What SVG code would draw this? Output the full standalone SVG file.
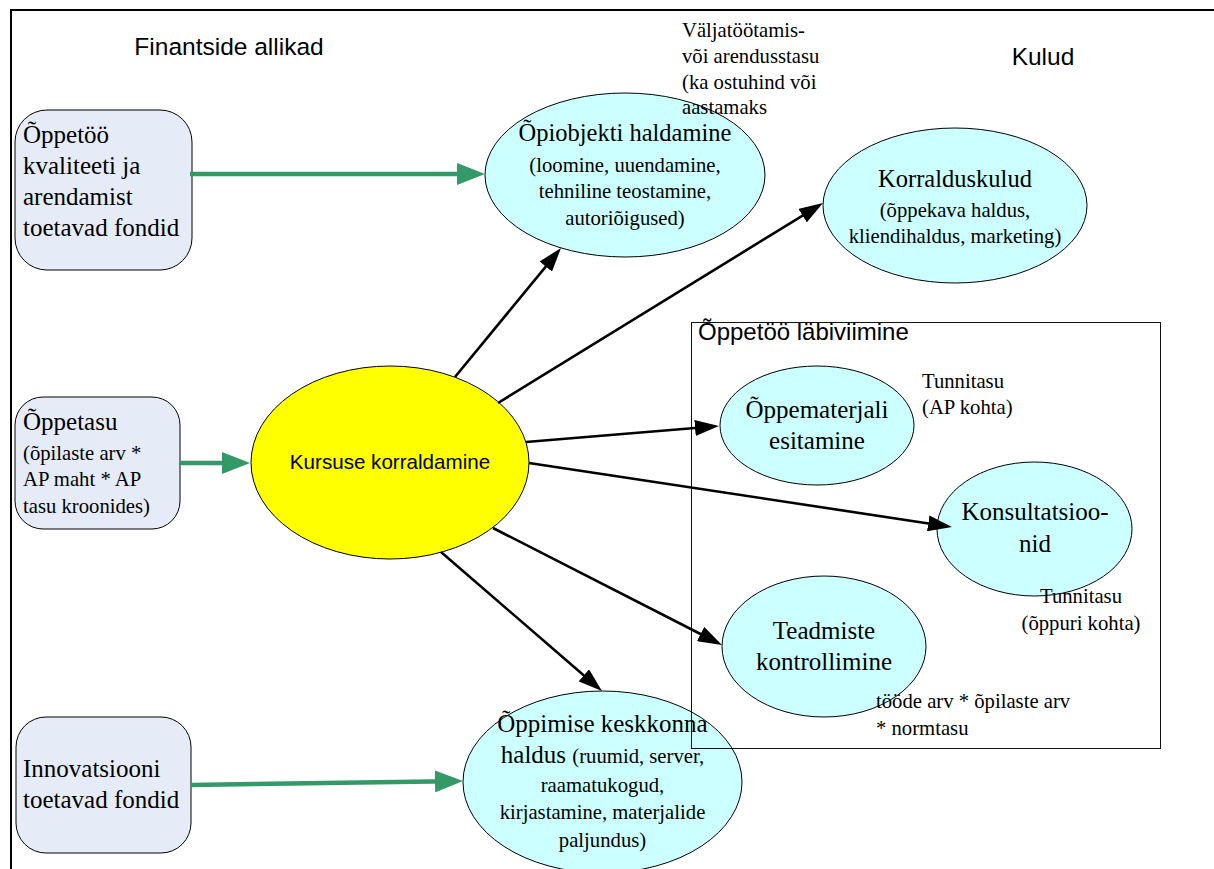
<svg xmlns="http://www.w3.org/2000/svg" width="1214" height="869" viewBox="0 0 1214 869">
<style>
.sans{font-family:"Liberation Sans",Arial,sans-serif;fill:#000}
.serif{font-family:"Liberation Serif","Times New Roman",serif;fill:#000}
.big{font-size:25px}
.mid{font-size:24.5px}
.sm{font-size:20.7px}
.box{fill:#e6ecf7;stroke:#000;stroke-width:1}
.ell{fill:#ccffff;stroke:#000;stroke-width:1}
.blk{stroke:#000;stroke-width:2.6;fill:none}
.grn{stroke:#339966;stroke-width:4.5;fill:none}
</style>
<defs>
<marker id="ab" markerUnits="userSpaceOnUse" markerWidth="24" markerHeight="16" refX="12" refY="8" orient="auto" viewBox="0 0 24 16"><path d="M0,0 L24,8 L0,16 z" fill="#000"/></marker>
<marker id="ag" markerUnits="userSpaceOnUse" markerWidth="28" markerHeight="22" refX="14" refY="11" orient="auto" viewBox="0 0 28 22"><path d="M0,0 L28,11 L0,22 z" fill="#339966"/></marker>
</defs>
<rect width="1214" height="869" fill="#fff"/>
<path d="M11,869 V10 H1214" fill="none" stroke="#000" stroke-width="2"/>
<text class="sans" x="229" y="55" font-size="24.5" text-anchor="middle">Finantside allikad</text>
<text class="sans" x="1043" y="65" font-size="24.5" text-anchor="middle">Kulud</text>

<g id="n-fondid1">
<rect class="box" x="15" y="110" width="177" height="160" rx="32"/>
<text class="serif big" x="23"><tspan x="23" y="143">Õppetöö</tspan><tspan x="23" y="174">kvaliteeti ja</tspan><tspan x="23" y="205">arendamist</tspan><tspan x="23" y="236">toetavad fondid</tspan></text>
</g>
<g id="n-oppetasu">
<rect class="box" x="15" y="397" width="165" height="132" rx="28"/>
<text class="serif big" x="23" y="430">Õppetasu</text>
<text class="serif sm" x="23"><tspan x="23" y="460">(õpilaste arv *</tspan><tspan x="23" y="486">AP maht * AP</tspan><tspan x="23" y="513">tasu kroonides)</tspan></text>
</g>
<g id="n-fondid2">
<rect class="box" x="16" y="717" width="175" height="136" rx="30"/>
<text class="serif big"><tspan x="23" y="777">Innovatsiooni</tspan><tspan x="23" y="808">toetavad fondid</tspan></text>
</g>

<g id="n-kursus">
<ellipse cx="390" cy="462.5" rx="139" ry="96.5" fill="#ffff00" stroke="#000" stroke-width="1"/>
<text class="sans" x="390" y="469" font-size="20.6" text-anchor="middle">Kursuse korraldamine</text>
</g>
<g id="n-opiobjekt">
<ellipse class="ell" cx="625" cy="175" rx="140" ry="82"/>
<text class="serif mid" x="625" y="141" text-anchor="middle">Õpiobjekti haldamine</text>
<text class="serif sm" text-anchor="middle"><tspan x="625" y="172">(loomine, uuendamine,</tspan><tspan x="625" y="198">tehniline teostamine,</tspan><tspan x="625" y="225">autoriõigused)</tspan></text>
</g>
<text class="serif sm"><tspan x="682" y="37">Väljatöötamis-</tspan><tspan x="682" y="63">või arendusstasu</tspan><tspan x="682" y="89">(ka ostuhind või</tspan><tspan x="682" y="114">aastamaks</tspan></text>
<g id="n-korraldus">
<ellipse class="ell" cx="955" cy="205.5" rx="132" ry="77.5"/>
<text class="serif mid" x="955" y="187" text-anchor="middle">Korralduskulud</text>
<text class="serif sm" text-anchor="middle"><tspan x="955" y="217">(õppekava haldus,</tspan><tspan x="955" y="243">kliendihaldus, marketing)</tspan></text>
</g>
<g id="n-oppimise">
<ellipse class="ell" cx="602.5" cy="782" rx="139.5" ry="91"/>
<text class="serif" text-anchor="middle"><tspan class="big" x="602.5" y="732">Õppimise keskkonna</tspan><tspan class="big" x="602.5" y="763">haldus <tspan class="sm">(ruumid, server,</tspan></tspan><tspan class="sm" x="602.5" y="792">raamatukogud,</tspan><tspan class="sm" x="602.5" y="819">kirjastamine, materjalide</tspan><tspan class="sm" x="602.5" y="847">paljundus)</tspan></text>
</g>

<g id="n-labiviimine">
<rect x="691.5" y="322.5" width="469" height="426" fill="none" stroke="#111" stroke-width="1"/>
<text class="sans" x="698" y="340" font-size="24">Õppetöö läbiviimine</text>
</g>
<g id="n-oppematerjal">
<ellipse class="ell" cx="817" cy="425.5" rx="97" ry="59.5"/>
<text class="serif big" text-anchor="middle"><tspan x="817" y="418">Õppematerjali</tspan><tspan x="817" y="449">esitamine</tspan></text>
</g>
<text class="serif sm"><tspan x="922" y="388">Tunnitasu</tspan><tspan x="922" y="414">(AP kohta)</tspan></text>
<g id="n-konsult">
<ellipse class="ell" cx="1034.5" cy="529" rx="97.5" ry="67"/>
<text class="serif big" text-anchor="middle"><tspan x="1035" y="520">Konsultatsioo-</tspan><tspan x="1035" y="552">nid</tspan></text>
</g>
<text class="serif sm" text-anchor="middle"><tspan x="1081" y="603">Tunnitasu</tspan><tspan x="1081" y="630">(õppuri kohta)</tspan></text>
<g id="n-teadmiste">
<ellipse class="ell" cx="824" cy="646.5" rx="102" ry="70.5"/>
<text class="serif big" text-anchor="middle"><tspan x="824" y="639">Teadmiste</tspan><tspan x="824" y="670">kontrollimine</tspan></text>
</g>
<text class="serif sm"><tspan x="876" y="708">tööde arv * õpilaste arv</tspan><tspan x="876" y="735">* normtasu</tspan></text>

<g id="connectors">
<line class="grn" x1="190" y1="174" x2="471" y2="174" marker-end="url(#ag)"/>
<line class="grn" x1="179" y1="463" x2="236" y2="463" marker-end="url(#ag)"/>
<line class="grn" x1="191" y1="785" x2="449" y2="781.2" marker-end="url(#ag)"/>
<line class="blk" x1="455" y1="377" x2="553.4" y2="257.3" marker-end="url(#ab)"/>
<line class="blk" x1="498" y1="403" x2="812.8" y2="209.3" marker-end="url(#ab)"/>
<line class="blk" x1="526" y1="442" x2="707" y2="427" marker-end="url(#ab)"/>
<line class="blk" x1="529" y1="463" x2="940.1" y2="525.2" marker-end="url(#ab)"/>
<line class="blk" x1="493" y1="528" x2="711.3" y2="639.5" marker-end="url(#ab)"/>
<line class="blk" x1="441" y1="552" x2="592.9" y2="683.2" marker-end="url(#ab)"/>
</g>
</svg>
